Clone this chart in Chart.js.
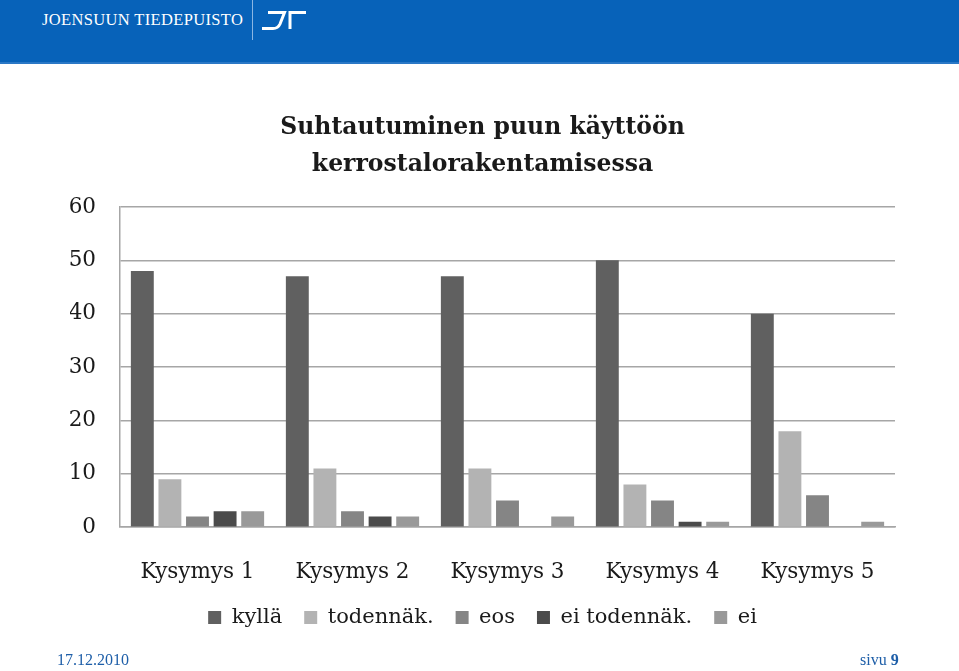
<!DOCTYPE html>
<html><head><meta charset="utf-8">
<script src="https://cdn.jsdelivr.net/npm/chart.js@4/dist/chart.umd.min.js"></script>
<style>
html,body{margin:0;padding:0;background:#fff;width:959px;height:671px;overflow:hidden;position:relative}
#c{position:absolute;left:0;top:0}
#hdr{position:absolute;left:0;top:0;width:959px;height:64px;background:#0762b9}
#hdr .band{position:absolute;left:0;top:62px;width:959px;height:2px;background:#2a78c6}
#hdr .name{position:absolute;left:42px;top:10px;color:#fff;font-family:"Liberation Serif",serif;font-size:16.5px;letter-spacing:0.35px;white-space:nowrap}
#hdr .vl{position:absolute;left:252px;top:0;width:1px;height:40px;background:#8bb6e3}
#hdr svg{position:absolute;left:0;top:0}
.foot{position:absolute;top:651px;color:#1d5ea8;font-family:"Liberation Serif",serif;font-size:16px;white-space:nowrap}
</style></head>
<body>
<canvas id="c" width="959" height="671"></canvas>
<div id="hdr"><div class="band"></div><div class="name">JOENSUUN TIEDEPUISTO</div><div class="vl"></div>
<svg width="959" height="64"><path d="M268,12.5 H284.5 L280,24 Q278,28.5 273,28.5 H262" stroke="#fff" stroke-width="3" fill="none"/><path d="M290,29 V12.5 H306" stroke="#fff" stroke-width="3" fill="none"/></svg>
</div>
<div class="foot" style="left:57px">17.12.2010</div>
<div class="foot" style="left:860px">sivu <b>9</b></div>
<script>
const categories = ['Kysymys 1','Kysymys 2','Kysymys 3','Kysymys 4','Kysymys 5'];
const seriesNames = ['kyllä','todennäk.','eos','ei todennäk.','ei'];
const kylla = [48,47,47,50,40];
const todennak = [9,11,11,8,18];
const eos = [2,3,5,5,6];
const eiTodennak = [3,2,0,1,0];
const ei = [3,2,2,1,1];
const yTicks = [0,10,20,30,40,50,60];
const titleLines = ['Suhtautuminen puun käyttöön','kerrostalorakentamisessa'];

const colors = ['#606060','#b3b3b3','#858585','#4b4b4b','#999999'];
const values = [kylla,todennak,eos,eiTodennak,ei];
const FONT = '"DejaVu Serif", serif';
Chart.defaults.font.family = FONT;

new Chart(document.getElementById('c'), {
  type:'bar',
  data:{
    labels:categories,
    datasets:seriesNames.map((n,i)=>({label:n,data:values[i],backgroundColor:colors[i],borderWidth:0,
      categoryPercentage:0.89,barPercentage:0.83}))
  },
  options:{
    responsive:false,animation:false,devicePixelRatio:1,
    layout:{padding:{left:70,right:64,top:0,bottom:33}},
    plugins:{
      title:{display:true,text:titleLines,color:'#1a1a1a',font:{family:FONT,size:23.5,weight:'bold',lineHeight:1.574},padding:{top:109,bottom:24}},
      legend:{position:'bottom',labels:{boxWidth:13,boxHeight:13,padding:22,color:'#1a1a1a',font:{family:FONT,size:21}}},
      tooltip:{enabled:false}
    },
    scales:{
      x:{grid:{display:false,drawTicks:true,tickLength:32},border:{display:true,color:'#a6a6a6',width:1.5},
         ticks:{color:'#1a1a1a',padding:0,font:{family:FONT,size:21.5}}},
      y:{min:0,max:60,afterBuildTicks:(s)=>{s.ticks=yTicks.map(v=>({value:v}));},
         afterFit:(s)=>{s.width=50;},
         grid:{color:'#a6a6a6',lineWidth:1.5,drawTicks:false},border:{display:true,color:'#a6a6a6',width:1.5},
         ticks:{color:'#1a1a1a',padding:24,font:{family:FONT,size:21.5}}}
    }
  }
});
</script>
</body></html>
